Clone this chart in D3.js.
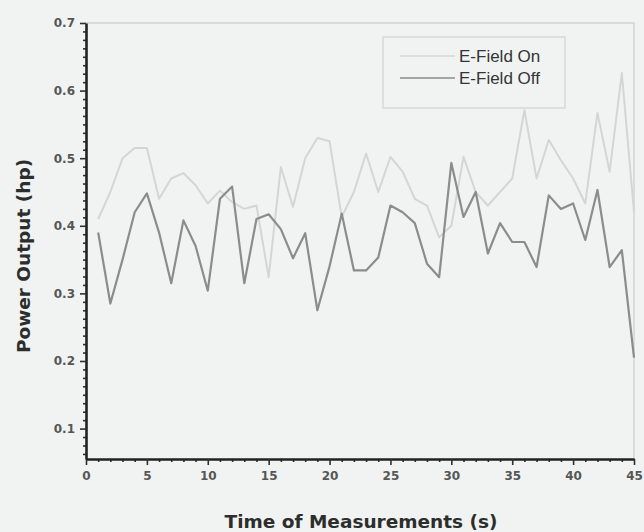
<!DOCTYPE html>
<html>
<head>
<meta charset="utf-8">
<script src="https://cdn.jsdelivr.net/npm/d3@7"></script>
<style>
  body { margin: 0; background: #f1f3f2; }
  #chart svg { display: block; }
</style>
</head>
<body>
<div id="chart"></div>
<script>
// time of measurement (s)
const times = [
  1, 2, 3, 4, 5, 6, 7, 8, 9, 10, 11, 12, 13, 14, 15, 16, 17, 18, 19, 20, 21, 22, 23,
  24, 25, 26, 27, 28, 29, 30, 31, 32, 33, 34, 35, 36, 37, 38, 39, 40, 41, 42, 43, 44, 45,
];

// power output (hp), E-field on
const fieldOn = [
  0.41, 0.45, 0.5, 0.515, 0.515, 0.44, 0.47, 0.478, 0.46, 0.433, 0.452, 0.435, 0.425,
  0.43, 0.324, 0.487, 0.428, 0.5, 0.53, 0.525, 0.413, 0.45, 0.507, 0.45, 0.502, 0.48,
  0.44, 0.43, 0.383, 0.4, 0.502, 0.45, 0.43, 0.45, 0.47, 0.571, 0.47, 0.527, 0.497,
  0.47, 0.433, 0.567, 0.48, 0.626, 0.42,
];

// power output (hp), E-field off
const fieldOff = [
  0.39, 0.285, 0.35, 0.42, 0.448, 0.39, 0.315, 0.408, 0.37, 0.304, 0.44, 0.458, 0.315,
  0.41, 0.417, 0.395, 0.352, 0.389, 0.275, 0.34, 0.418, 0.334, 0.334, 0.353, 0.43, 0.42,
  0.404, 0.344, 0.324, 0.493, 0.413, 0.45, 0.359, 0.404, 0.376, 0.376, 0.339, 0.445,
  0.425, 0.433, 0.379, 0.453, 0.339, 0.364, 0.205,
];

const xTicks = [0, 5, 10, 15, 20, 25, 30, 35, 40, 45];
const yTicks = [0.1, 0.2, 0.3, 0.4, 0.5, 0.6, 0.7];
const seriesNames = ["E-Field On", "E-Field Off"];

const W = 644, H = 532;
const plot = { left: 86, right: 634, top: 23, bottom: 459 };

function createScales() {
  const xScale = d3.scaleLinear().domain([0, 45]).range([plot.left, plot.right]);
  const yScale = d3.scaleLinear().domain([0.055, 0.7]).range([plot.bottom, plot.top]);
  return { xScale, yScale };
}

function createSvg() {
  return d3
    .select("#chart")
    .append("svg")
    .attr("width", W)
    .attr("height", H);
}

function drawFrame(svg) {
  // light top and right border of the plot box
  svg.append("path")
    .attr("d", `M${plot.left},${plot.top}H${plot.right}V${plot.bottom}`)
    .attr("fill", "none")
    .attr("stroke", "#d2d5d3")
    .attr("stroke-width", 1.5);
}

function drawLines(svg, xScale, yScale) {
  const line = (vals) =>
    d3.line()
      .x((d, i) => xScale(times[i]))
      .y((d) => yScale(d))(vals);

  svg.append("path")
    .attr("d", line(fieldOn))
    .attr("fill", "none")
    .attr("stroke", "#d4d6d5")
    .attr("stroke-width", 2)
    .attr("stroke-linejoin", "round");

  svg.append("path")
    .attr("d", line(fieldOff))
    .attr("fill", "none")
    .attr("stroke", "#8a8d8c")
    .attr("stroke-width", 2.2)
    .attr("stroke-linejoin", "round");
}

function addAxes(svg, xScale, yScale) {
  const xMinor = d3.range(0, 46, 1).filter((v) => v % 5 !== 0);
  const yMinor = d3.range(0, 53).map((k) => 0.0625 + k * 0.0125)
    .filter((v) => v < 0.7 && Math.abs(v * 10 - Math.round(v * 10)) > 0.01);

  // minor ticks
  svg.append("g")
    .attr("transform", `translate(0, ${plot.bottom})`)
    .call(d3.axisBottom(xScale).tickValues(xMinor).tickSize(3).tickFormat(""))
    .call((g) => g.select(".domain").remove());
  svg.append("g")
    .attr("transform", `translate(${plot.left}, 0)`)
    .call(d3.axisLeft(yScale).tickValues(yMinor).tickSize(3).tickFormat(""))
    .call((g) => g.select(".domain").remove());

  const xAxis = d3.axisBottom(xScale).tickValues(xTicks).tickSize(6).tickSizeOuter(0).tickPadding(6);
  const yAxis = d3.axisLeft(yScale).tickValues(yTicks).tickSize(6).tickSizeOuter(0).tickPadding(5)
    .tickFormat(d3.format(".1f"));

  svg.append("g").attr("class", "x-axis")
    .attr("transform", `translate(0, ${plot.bottom})`).call(xAxis);
  svg.append("g").attr("class", "y-axis")
    .attr("transform", `translate(${plot.left}, 0)`).call(yAxis);

  svg.selectAll(".tick line").attr("stroke", "#2e302f").attr("stroke-width", 1.6);
  svg.selectAll(".x-axis .domain, .y-axis .domain")
    .attr("stroke", "#222")
    .attr("stroke-width", 2.6);
  svg.selectAll(".tick text")
    .style("font-family", "'DejaVu Sans', sans-serif")
    .style("font-size", "12px")
    .style("font-weight", "bold")
    .attr("fill", "#555756");

  // axis titles
  svg.append("text")
    .attr("x", 361)
    .attr("y", 528)
    .attr("text-anchor", "middle")
    .style("font-family", "'DejaVu Sans', sans-serif")
    .style("font-size", "18.5px")
    .style("font-weight", "bold")
    .attr("fill", "#2c2e2d")
    .text("Time of Measurements (s)");

  svg.append("text")
    .attr("transform", "translate(30, 256) rotate(-90)")
    .attr("text-anchor", "middle")
    .style("font-family", "'DejaVu Sans', sans-serif")
    .style("font-size", "18.5px")
    .style("font-weight", "bold")
    .attr("fill", "#2c2e2d")
    .text("Power Output (hp)");
}

function addLegend(svg) {
  const g = svg.append("g");
  g.append("rect")
    .attr("x", 383).attr("y", 37)
    .attr("width", 182).attr("height", 71)
    .attr("fill", "none")
    .attr("stroke", "#d6d9d7")
    .attr("stroke-width", 1.5);

  const colors = ["#d4d6d5", "#8a8d8c"];
  seriesNames.forEach((name, i) => {
    const y = 56 + i * 22;
    g.append("line")
      .attr("x1", 400).attr("x2", 455)
      .attr("y1", y).attr("y2", y)
      .attr("stroke", colors[i])
      .attr("stroke-width", 1.6);
    g.append("text")
      .attr("x", 459).attr("y", y + 6)
      .style("font-family", "'Liberation Sans Narrow', 'Arial Narrow', sans-serif")
      .style("font-size", "17px")
      .attr("fill", "#333534")
      .text(name);
  });
}

const { xScale, yScale } = createScales();
const svg = createSvg();
drawFrame(svg);
drawLines(svg, xScale, yScale);
addAxes(svg, xScale, yScale);
addLegend(svg);
</script>
</body>
</html>
